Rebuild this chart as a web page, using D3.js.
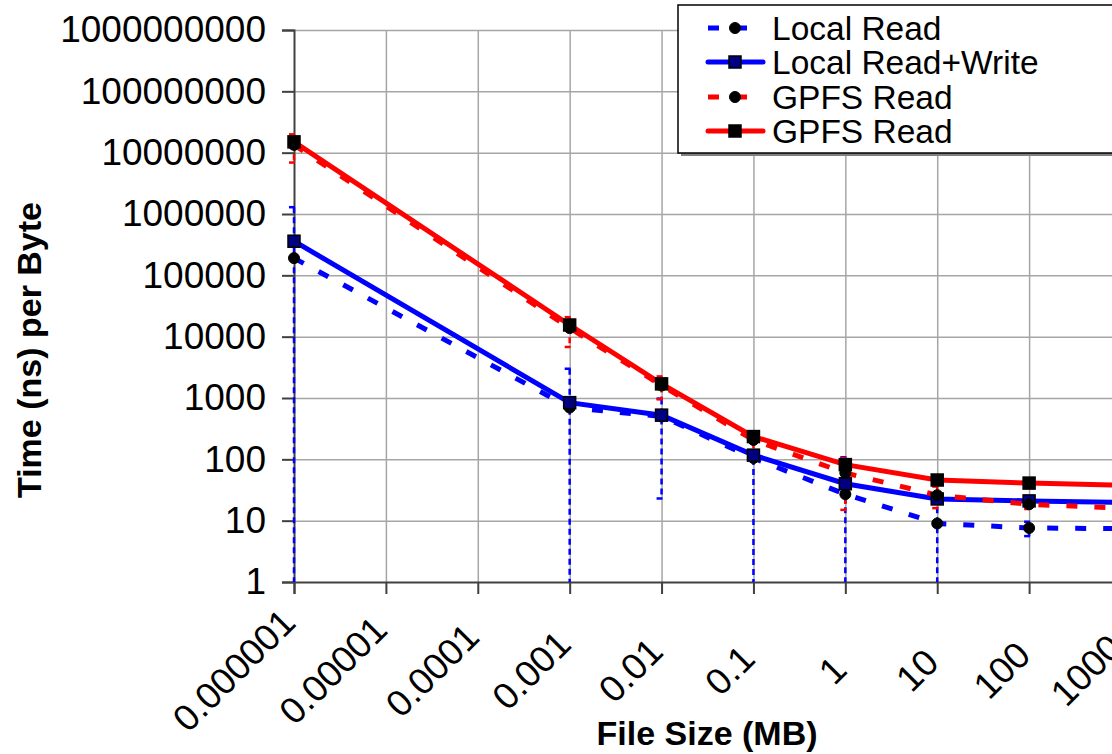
<!DOCTYPE html>
<html>
<head>
<meta charset="utf-8">
<script src="https://cdn.jsdelivr.net/npm/d3@7"></script>
<style>
  body { margin: 0; background: white; }
  svg { display: block; font-family: "Liberation Sans", Arial, sans-serif; }
</style>
</head>
<body>
<svg width="1112" height="754"></svg>
<script>
// file sizes (MB) where measurements were taken
const fileSizes = [1e-6, 1e-3, 0.01, 0.1, 1, 10, 100, 1000];
// time per byte (ns)
const localRead = [191000, 700, 500, 105, 27, 9, 7.6, 7.4];
const localReadErr = [1100000, 2300, 477, 110, 81, 15, 2, 1];
const localRW = [360000, 840, 525, 117, 40, 22.6, 21, 19.8];
const gpfsRead = [13400000, 13800, 1600, 207, 60, 26, 18.5, 16];
const gpfsReadErr = [6500000, 7000, 650, 70, 45, 10, 3, 2];
const gpfsRW = [15000000, 15500, 1700, 235, 82, 46, 41, 38];

const xTicks = [1e-6, 1e-5, 1e-4, 1e-3, 0.01, 0.1, 1, 10, 100, 1000];
const xTickLabels = ["0.000001", "0.00001", "0.0001", "0.001", "0.01", "0.1", "1", "10", "100", "1000"];
const yTicks = [1, 10, 100, 1e3, 1e4, 1e5, 1e6, 1e7, 1e8, 1e9];
const yTickLabels = ["1", "10", "100", "1000", "10000", "100000", "1000000", "10000000", "100000000", "1000000000"];
const legendLabels = ["Local Read", "Local Read+Write", "GPFS Read", "GPFS Read"];

const plotL = 294, plotR = 1121, plotT = 30, plotB = 582;

var svg = d3.select("svg");
var x = d3.scaleLog().domain([1e-6, 1000]).range([plotL, plotR]);
var y = d3.scaleLog().domain([1, 1e9]).range([plotB, plotT]);

// grid
svg.append("g")
  .attr("transform", `translate(0,${plotT})`)
  .call(d3.axisBottom(x).tickValues(xTicks.slice(1)).tickSize(plotB - plotT).tickFormat(""))
  .call(g => g.select(".domain").remove())
  .selectAll("line").attr("stroke", "#a6a6a6").attr("stroke-width", 1.5);
svg.append("g")
  .attr("transform", `translate(${plotL},0)`)
  .call(d3.axisRight(y).tickValues(yTicks.slice(1)).tickSize(plotR - plotL).tickFormat(""))
  .call(g => g.select(".domain").remove())
  .selectAll("line").attr("stroke", "#a6a6a6").attr("stroke-width", 1.5);

// axes
var yAxis = svg.append("g")
  .attr("transform", `translate(${plotL},0)`)
  .call(d3.axisLeft(y).tickValues(yTicks).tickSizeOuter(0).tickSize(12).tickPadding(16)
    .tickFormat((d, i) => yTickLabels[i]));
yAxis.select(".domain").attr("stroke", "#404040").attr("stroke-width", 2);
yAxis.selectAll("line").attr("stroke", "#404040").attr("stroke-width", 2);
yAxis.selectAll("text")
  .attr("font-size", 37).attr("fill", "black").attr("font-family", "Liberation Sans, Arial, sans-serif");

var xAxis = svg.append("g")
  .attr("transform", `translate(0,${plotB})`)
  .call(d3.axisBottom(x).tickValues(xTicks).tickSizeOuter(0).tickSize(12)
    .tickFormat((d, i) => xTickLabels[i]));
xAxis.select(".domain").attr("stroke", "#404040").attr("stroke-width", 2);
xAxis.selectAll("line").attr("stroke", "#404040").attr("stroke-width", 2);
// rotated labels: right end under the tick, label centres on one line
xAxis.selectAll("text")
  .attr("font-size", 37).attr("fill", "black").attr("font-family", "Liberation Sans, Arial, sans-serif")
  .attr("text-anchor", "end")
  .attr("y", 0).attr("dy", 0)
  .attr("transform", function() {
    var w = this.getComputedTextLength();
    var py = 88 - 0.707 * (w / 2 - 13);
    return `translate(3,${py}) rotate(-45)`;
  });

// axis titles
svg.append("text")
  .attr("transform", "translate(41,350) rotate(-90)")
  .attr("text-anchor", "middle")
  .attr("font-size", 34).attr("font-weight", "bold")
  .text("Time (ns) per Byte");
svg.append("text")
  .attr("x", 707).attr("y", 745)
  .attr("text-anchor", "middle")
  .attr("font-size", 34).attr("font-weight", "bold")
  .text("File Size (MB)");

const series = [
  { values: localRead, err: localReadErr, color: "#0000ff", dash: "11,17", marker: "circle", fill: "black" },
  { values: localRW, err: null, color: "#0000ff", dash: null, marker: "square", fill: "#000080" },
  { values: gpfsRead, err: gpfsReadErr, color: "#ff0000", dash: "11,17", marker: "circle", fill: "black" },
  { values: gpfsRW, err: null, color: "#ff0000", dash: null, marker: "square", fill: "black" }
];

var line = d3.line()
  .x((d, i) => x(fileSizes[i]))
  .y(d => y(d));

series.forEach(s => {
  svg.append("path")
    .datum(s.values)
    .attr("d", line)
    .attr("fill", "none")
    .attr("stroke", s.color)
    .attr("stroke-width", 5)
    .attr("stroke-dasharray", s.dash);
});

// error bars (mean +/- sd, lower end clipped at the axis)
series.forEach(s => {
  if (!s.err) return;
  var g = svg.append("g")
    .attr("stroke", s.color)
    .attr("stroke-width", 2.5)
    .attr("stroke-dasharray", "6,4");
  s.values.forEach((v, i) => {
    var cx = x(fileSizes[i]);
    var hi = y(v + s.err[i]);
    var lo = v - s.err[i] > 1 ? y(v - s.err[i]) : plotB;
    g.append("line").attr("x1", cx).attr("x2", cx).attr("y1", hi).attr("y2", lo);
    g.append("line").attr("x1", cx - 5).attr("x2", cx + 5).attr("y1", hi).attr("y2", hi);
    if (v - s.err[i] > 1)
      g.append("line").attr("x1", cx - 5).attr("x2", cx + 5).attr("y1", lo).attr("y2", lo);
  });
});

function drawMarker(g, type, cx, cy, fill) {
  if (type === "circle") {
    g.append("circle").attr("cx", cx).attr("cy", cy).attr("r", 5.5)
      .attr("fill", fill).attr("stroke", "black").attr("stroke-width", 1);
  } else {
    g.append("rect").attr("x", cx - 6).attr("y", cy - 6).attr("width", 12).attr("height", 12)
      .attr("fill", fill).attr("stroke", "black").attr("stroke-width", 1.5);
  }
}

series.forEach(s => {
  var g = svg.append("g");
  s.values.forEach((v, i) => drawMarker(g, s.marker, x(fileSizes[i]), y(v), s.fill));
});

// legend
var legend = svg.append("g");
legend.append("rect")
  .attr("x", 681).attr("y", 8).attr("width", 480).attr("height", 148)
  .attr("fill", "#808080");
legend.append("rect")
  .attr("x", 678).attr("y", 5).attr("width", 480).attr("height", 148)
  .attr("fill", "white").attr("stroke", "black").attr("stroke-width", 1.5);

const rowY = [28, 62, 97, 131];
series.forEach((s, i) => {
  legend.append("line")
    .attr("x1", 708).attr("x2", 763).attr("y1", rowY[i]).attr("y2", rowY[i])
    .attr("stroke", s.color).attr("stroke-width", 5)
    .attr("stroke-linecap", s.dash ? "butt" : "round")
    .attr("stroke-dasharray", s.dash ? "11,17" : null);
  drawMarker(legend, s.marker, 735, rowY[i], s.fill);
  legend.append("text")
    .attr("x", 772).attr("y", rowY[i] + 12)
    .attr("font-size", 33.5)
    .text(legendLabels[i]);
});
</script>
</body>
</html>
